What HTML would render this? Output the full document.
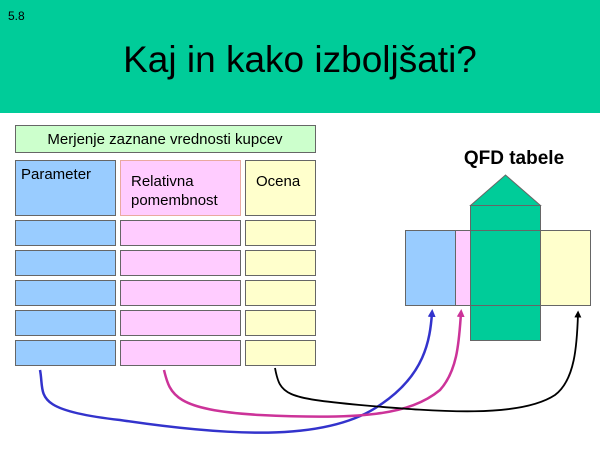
<!DOCTYPE html>
<html><head><meta charset="utf-8"><style>
body{margin:0;width:600px;height:450px;overflow:hidden;background:#fff;font-family:"Liberation Sans",sans-serif;}
</style></head><body>
<svg width="600" height="450" xmlns="http://www.w3.org/2000/svg" font-family="Liberation Sans, sans-serif">
<defs>
<marker id="ab" markerWidth="8" markerHeight="8" refX="4" refY="4" orient="auto" markerUnits="userSpaceOnUse"><path d="M0,0 L8,4 L0,8 z" fill="#3333cc"/></marker>
<marker id="ap" markerWidth="8" markerHeight="8" refX="4" refY="4" orient="auto" markerUnits="userSpaceOnUse"><path d="M0,0 L8,4 L0,8 z" fill="#cc3399"/></marker>
<marker id="ak" markerWidth="7" markerHeight="7" refX="3.5" refY="3.5" orient="auto" markerUnits="userSpaceOnUse"><path d="M0,0 L7,3.5 L0,7 z" fill="#000"/></marker>
</defs>
<rect x="0" y="0" width="600" height="113" fill="#00cc99"/>
<text x="8" y="20" font-size="12">5.8</text>
<text x="300" y="72" font-size="37" text-anchor="middle">Kaj in kako izboljšati?</text>
<g stroke="#666" stroke-width="1">
<rect x="15.5" y="125.5" width="300" height="27" fill="#ccffcc"/>
<rect x="15.5" y="160.5" width="100" height="55" fill="#99ccff"/>
<rect x="120.5" y="160.5" width="120" height="55" fill="#ffccff" stroke="#e9a9a0"/>
<rect x="245.5" y="160.5" width="70" height="55" fill="#ffffcc"/>
<g fill="#99ccff"><rect x="15.5" y="220.5" width="100" height="25"/><rect x="15.5" y="250.5" width="100" height="25"/><rect x="15.5" y="280.5" width="100" height="25"/><rect x="15.5" y="310.5" width="100" height="25"/><rect x="15.5" y="340.5" width="100" height="25"/></g>
<g fill="#ffccff"><rect x="120.5" y="220.5" width="120" height="25"/><rect x="120.5" y="250.5" width="120" height="25"/><rect x="120.5" y="280.5" width="120" height="25"/><rect x="120.5" y="310.5" width="120" height="25"/><rect x="120.5" y="340.5" width="120" height="25"/></g>
<g fill="#ffffcc"><rect x="245.5" y="220.5" width="70" height="25"/><rect x="245.5" y="250.5" width="70" height="25"/><rect x="245.5" y="280.5" width="70" height="25"/><rect x="245.5" y="310.5" width="70" height="25"/><rect x="245.5" y="340.5" width="70" height="25"/></g>
<rect x="405.5" y="230.5" width="50" height="75" fill="#99ccff"/>
<rect x="455.5" y="230.5" width="15" height="75" fill="#ffccff"/>
<rect x="540.5" y="230.5" width="50" height="75" fill="#ffffcc"/>
<rect x="470.5" y="205.5" width="70" height="135" fill="#00cc99"/>
<path d="M470.5,205.5 L505.5,175 L540.5,205.5 z" fill="#00cc99"/>
<path d="M470.5,230.5 H540.5 M470.5,305.5 H540.5" fill="none"/>
</g>
<g font-size="15" fill="#000">
<text x="165" y="144" text-anchor="middle">Merjenje zaznane vrednosti kupcev</text>
<text x="21" y="179">Parameter</text>
<text x="131" y="186">Relativna</text>
<text x="131" y="205">pomembnost</text>
<text x="256" y="186">Ocena</text>
</g>
<text x="514" y="164" font-size="19" font-weight="bold" text-anchor="middle">QFD tabele</text>
<g fill="none" stroke-width="2.5">
<path d="M40,370 C45,395 30,410 120,420 C240,438 330,440 380,405 C425,375 430,340 432,313" stroke="#3333cc" marker-end="url(#ab)"/>
<path d="M164,370 C170,395 175,410 260,415 C360,420 410,415 440,390 C458,370 459,340 461,313" stroke="#cc3399" marker-end="url(#ap)"/>
<path d="M275,368 C280,395 285,398 360,405 C440,412 520,418 555,395 C575,380 577,345 578,314" stroke="#000" stroke-width="1.8" marker-end="url(#ak)"/>
</g>
</svg>
</body></html>
